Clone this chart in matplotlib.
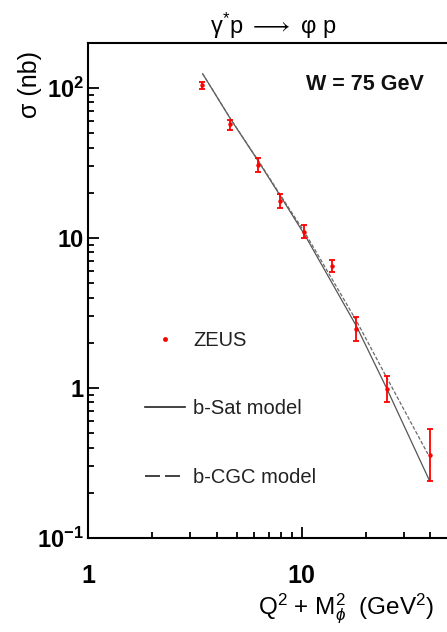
import numpy as np
import matplotlib
matplotlib.use("Agg")
import matplotlib.pyplot as plt
from matplotlib.lines import Line2D
from matplotlib.ticker import NullFormatter, LogLocator

plt.rcParams['font.family'] = ['Liberation Sans', 'DejaVu Sans']
plt.rcParams['mathtext.fontset'] = 'custom'
plt.rcParams['mathtext.rm'] = 'Liberation Sans'
plt.rcParams['mathtext.it'] = 'Liberation Sans:italic'
plt.rcParams['mathtext.bf'] = 'Liberation Sans:bold'

# ZEUS data, W = 75 GeV
x_zeus = [3.4, 4.6, 6.25, 7.9, 10.25, 13.8, 18.0, 25.0, 40.0]
y_zeus = [104, 57, 30.7, 17.7, 11.0, 6.5, 2.47, 0.985, 0.36]
err_lo = [6.0, 4.3, 3.1, 1.8, 1.0, 0.61, 0.40, 0.185, 0.12]
err_hi = [6.0, 4.5, 3.3, 1.9, 1.1, 0.57, 0.49, 0.225, 0.17]

# model curves
x_bsat = [3.44, 4.64, 6.25, 8.04, 10.44, 18.0, 25.0, 39.6]
y_bsat = [124, 62.1, 32.6, 18.5, 10.2, 2.59, 0.99, 0.241]
x_bcgc = [3.44, 4.64, 6.25, 8.04, 10.44, 18.0, 25.0, 38.9]
y_bcgc = [124, 62.3, 32.9, 18.8, 10.6, 2.81, 1.17, 0.363]

fig = plt.figure(figsize=(4.47, 6.32), dpi=100)
ax = fig.add_axes([88/447, 1-538/632, 372/447, 495/632])

ax.plot(x_bsat, y_bsat, color='#555555', lw=0.9)
ax.plot(x_bcgc, y_bcgc, color='#6a6a6a', lw=0.9, dashes=(3, 1.5))
ax.errorbar(x_zeus, y_zeus, yerr=[err_lo, err_hi], fmt='o', ms=2.2,
            color='red', ecolor='red', elinewidth=1.3, capsize=2.5, capthick=1.3)

ax.set_xscale('log')
ax.set_yscale('log')
ax.set_xlim(1, 55)
ax.set_ylim(0.1, 199)

ax.set_yticks([0.1, 1, 10, 100])
ax.set_yticklabels([r'$\mathbf{10^{-1}}$', '1', '10', r'$\mathbf{10^{2}}$'],
                   fontweight='bold', fontsize=17)
ax.yaxis.set_minor_locator(LogLocator(base=10, subs=np.arange(2, 10)))
ax.yaxis.set_minor_formatter(NullFormatter())
ax.set_xticks([1, 10])
ax.set_xticklabels(['1', '10'], fontweight='bold', fontsize=18)
ax.xaxis.set_minor_locator(LogLocator(base=10, subs=np.arange(2, 10)))
ax.xaxis.set_minor_formatter(NullFormatter())

ax.tick_params(which='both', direction='in', top=False, right=False, width=1.3)
ax.tick_params(which='major', length=8)
ax.tick_params(which='minor', length=4.5)
ax.tick_params(axis='x', pad=19)
ax.tick_params(axis='y', pad=3)
for s in ax.spines.values():
    s.set_linewidth(1.5)

ax.text(0.745, 0.917, 'W = 75 GeV', transform=ax.transAxes, ha='center', va='center',
        fontsize=15.5, fontweight='bold', color='#111111')

fig.text(273/447, 1-26/632, r'γ$^{*}$p $\longrightarrow$ φ p', ha='center', va='center', fontsize=17)
fig.text(30/447, 1-84/632, 'σ (nb)', rotation=90, ha='center', va='center', fontsize=18)
fig.text(258/447, 1-609/632, r'Q$^2$ + M$_\phi^2$  (GeV$^2$)', ha='left', va='center', fontsize=17.5)

handles = [
    Line2D([], [], ls='none', marker='o', ms=2.5, color='red'),
    Line2D([], [], color='#222222', lw=1.2),
    Line2D([], [], color='#222222', lw=1.2, dashes=(9, 3)),
]
ax.legend(handles, ['ZEUS', 'b-Sat model', 'b-CGC model'], loc='upper left',
          bbox_to_anchor=(0.153, 0.418), frameon=False, fontsize=14.5,
          handlelength=2.0, handletextpad=0.4, labelspacing=2.45,
          borderpad=0, borderaxespad=0, labelcolor='#222222')

fig.savefig('out.png', dpi=100)
